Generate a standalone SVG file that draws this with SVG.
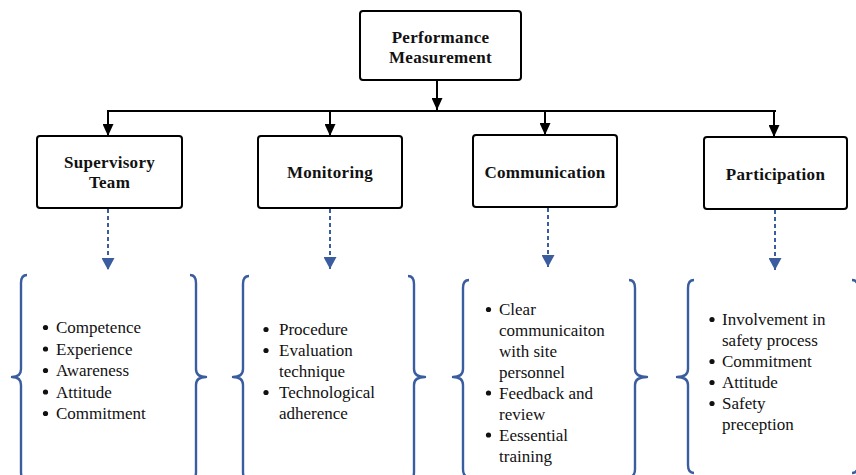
<svg xmlns="http://www.w3.org/2000/svg" width="856" height="475" viewBox="0 0 856 475">
  <style>
    .box { fill: #ffffff; stroke: #000000; stroke-width: 2; }
    .title { font-family: "Liberation Serif", "Times New Roman", serif; font-size: 17px; font-weight: bold; fill: #111111; text-anchor: middle; letter-spacing: 0.3px; }
    .item { font-family: "Liberation Serif", "Times New Roman", serif; font-size: 17px; fill: #111111; }
    .solid { fill: none; stroke: #000000; stroke-width: 2; }
    .dashed { fill: none; stroke: #3A5DA0; stroke-width: 2; stroke-dasharray: 4 3; }
    .brace { fill: none; stroke: #3A5DA0; stroke-width: 2.4; stroke-linejoin: round; }
    .dot { fill: #111111; }
  </style>
  <defs>
    <marker id="headBlack" viewBox="0 0 12 11" refX="12" refY="5.5" markerWidth="12" markerHeight="11" markerUnits="userSpaceOnUse" orient="auto">
      <path d="M0,0 L12,5.5 L0,11 z" fill="#000000"/>
    </marker>
    <marker id="headBlue" viewBox="0 0 12 13" refX="12" refY="6.5" markerWidth="12" markerHeight="13" markerUnits="userSpaceOnUse" orient="auto">
      <path d="M0,0 L12,6.5 L0,13 z" fill="#3A5DA0"/>
    </marker>
  </defs>

  <!-- connectors -->
  <g id="connectors">
    <line class="solid" x1="437" y1="80" x2="437" y2="110" marker-end="url(#headBlack)"/>
    <line class="solid" x1="107" y1="111" x2="776" y2="111"/>
    <line class="solid" x1="108" y1="111" x2="108" y2="136" marker-end="url(#headBlack)"/>
    <line class="solid" x1="330" y1="111" x2="330" y2="136" marker-end="url(#headBlack)"/>
    <line class="solid" x1="545" y1="111" x2="545" y2="135" marker-end="url(#headBlack)"/>
    <line class="solid" x1="774" y1="111" x2="774" y2="137" marker-end="url(#headBlack)"/>
    <line class="dashed" x1="108" y1="209" x2="108" y2="270" marker-end="url(#headBlue)"/>
    <line class="dashed" x1="330" y1="209" x2="330" y2="269" marker-end="url(#headBlue)"/>
    <line class="dashed" x1="548" y1="208" x2="548" y2="267" marker-end="url(#headBlue)"/>
    <line class="dashed" x1="775" y1="210" x2="775" y2="270" marker-end="url(#headBlue)"/>
  </g>

  <!-- root -->
  <g id="performance-measurement">
    <rect class="box" x="360" y="11" width="161" height="69" rx="3"/>
    <text class="title" x="440.5" y="43">Performance</text>
    <text class="title" x="440.5" y="63">Measurement</text>
  </g>

  <!-- category boxes -->
  <g id="supervisory-team">
    <rect class="box" x="37" y="136" width="145" height="72" rx="3"/>
    <text class="title" x="109.5" y="168">Supervisory</text>
    <text class="title" x="109.5" y="188">Team</text>
  </g>
  <g id="monitoring">
    <rect class="box" x="258" y="136" width="144" height="72" rx="3"/>
    <text class="title" x="330" y="178">Monitoring</text>
  </g>
  <g id="communication">
    <rect class="box" x="473" y="135" width="144" height="72" rx="3"/>
    <text class="title" x="545" y="178">Communication</text>
  </g>
  <g id="participation">
    <rect class="box" x="704" y="137" width="143" height="72" rx="3"/>
    <text class="title" x="775.5" y="180">Participation</text>
  </g>

  <!-- bracketed lists -->
  <g id="supervisory-list">
    <path class="brace" d="M27,275 Q21,275 21,283 L21,369 Q21,377 12,377 Q21,377 21,385 L21,472 Q21,480 27,480"/>
    <path class="brace" d="M190,275 Q196,275 196,283 L196,369 Q196,377 206,377 Q196,377 196,385 L196,472 Q196,480 190,480"/>
    <circle class="dot" cx="45.5" cy="327.5" r="2.6"/>
    <text class="item" x="56" y="333">Competence</text>
    <circle class="dot" cx="45.5" cy="349" r="2.6"/>
    <text class="item" x="56" y="354.5">Experience</text>
    <circle class="dot" cx="45.5" cy="370.5" r="2.6"/>
    <text class="item" x="56" y="376">Awareness</text>
    <circle class="dot" cx="45.5" cy="392" r="2.6"/>
    <text class="item" x="56" y="397.5">Attitude</text>
    <circle class="dot" cx="45.5" cy="413.5" r="2.6"/>
    <text class="item" x="56" y="419">Commitment</text>
  </g>
  <g id="monitoring-list">
    <path class="brace" d="M249,276 Q243,276 243,284 L243,369 Q243,377 233,377 Q243,377 243,385 L243,472 Q243,480 249,480"/>
    <path class="brace" d="M408,276 Q414,276 414,284 L414,369 Q414,377 425,377 Q414,377 414,385 L414,472 Q414,480 408,480"/>
    <circle class="dot" cx="266" cy="329.5" r="2.6"/>
    <text class="item" x="279" y="335">Procedure</text>
    <circle class="dot" cx="266" cy="350.5" r="2.6"/>
    <text class="item" x="279" y="356">Evaluation</text>
    <text class="item" x="279" y="377">technique</text>
    <circle class="dot" cx="266" cy="392.5" r="2.6"/>
    <text class="item" x="279" y="398">Technological</text>
    <text class="item" x="279" y="419">adherence</text>
  </g>
  <g id="communication-list">
    <path class="brace" d="M469,280 Q463,280 463,288 L463,369 Q463,377 453,377 Q463,377 463,385 L463,469 Q463,477 469,477"/>
    <path class="brace" d="M629,280 Q635,280 635,288 L635,369 Q635,377 647,377 Q635,377 635,385 L635,469 Q635,477 629,477"/>
    <circle class="dot" cx="488.5" cy="309.5" r="2.6"/>
    <text class="item" x="499" y="315">Clear</text>
    <text class="item" x="499" y="336">communicaiton</text>
    <text class="item" x="499" y="357">with site</text>
    <text class="item" x="499" y="378">personnel</text>
    <circle class="dot" cx="488.5" cy="393" r="2.6"/>
    <text class="item" x="499" y="398.5">Feedback and</text>
    <text class="item" x="499" y="419.5">review</text>
    <circle class="dot" cx="488.5" cy="435" r="2.6"/>
    <text class="item" x="499" y="440.5">Eessential</text>
    <text class="item" x="499" y="461.5">training</text>
  </g>
  <g id="participation-list">
    <path class="brace" d="M694,280 Q688,280 688,288 L688,369 Q688,377 677,377 Q688,377 688,385 L688,465 Q688,473 694,473"/>
    <path class="brace" d="M852,280 Q858,280 858,288 L858,369 Q858,377 868,377 Q858,377 858,385 L858,465 Q858,473 852,473"/>
    <circle class="dot" cx="712" cy="319.5" r="2.6"/>
    <text class="item" x="722" y="325">Involvement in</text>
    <text class="item" x="722" y="346">safety process</text>
    <circle class="dot" cx="712" cy="361.5" r="2.6"/>
    <text class="item" x="722" y="367">Commitment</text>
    <circle class="dot" cx="712" cy="382.5" r="2.6"/>
    <text class="item" x="722" y="388">Attitude</text>
    <circle class="dot" cx="712" cy="403.5" r="2.6"/>
    <text class="item" x="722" y="409">Safety</text>
    <text class="item" x="722" y="430">preception</text>
  </g>
</svg>
